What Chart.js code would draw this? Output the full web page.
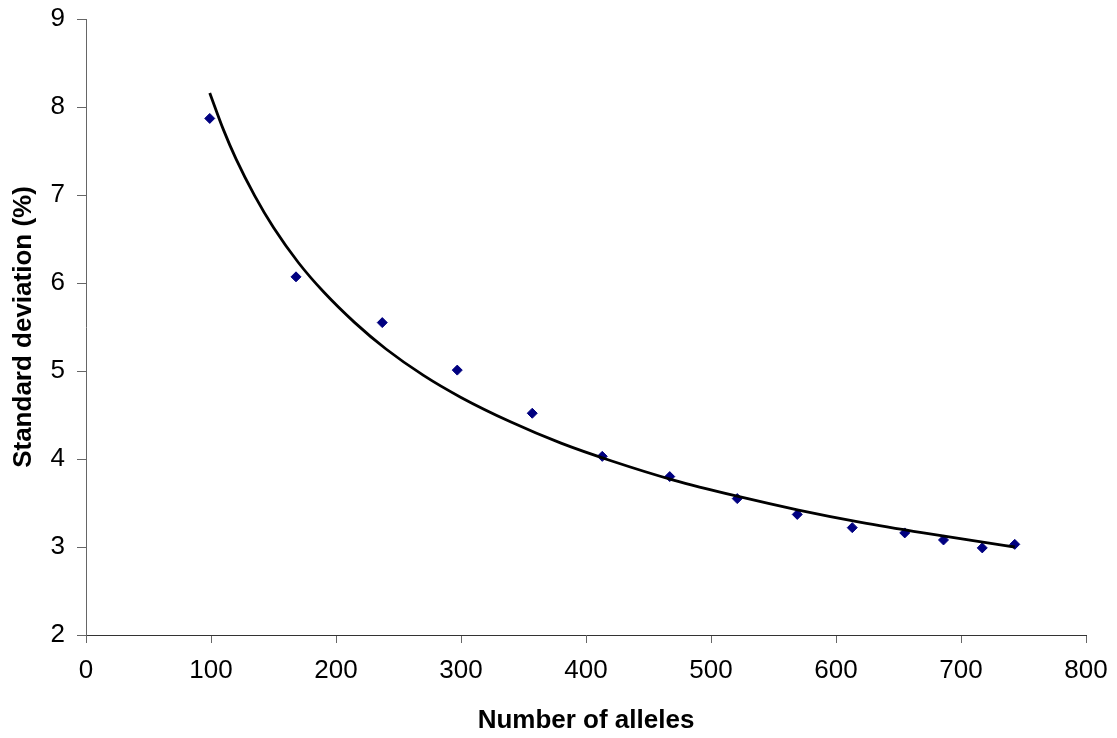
<!DOCTYPE html>
<html>
<head>
<meta charset="utf-8">
<script src="https://cdn.jsdelivr.net/npm/chart.js@4"></script>
<style>
html,body{margin:0;padding:0;background:#fff;}
#wrap{width:1117px;height:738px;}
</style>
</head>
<body>
<div id="wrap"><canvas id="c" width="1117" height="738"></canvas></div>
<script>
// Observed data points
const alleles = [99, 168, 237, 297, 357, 413, 467, 521, 569, 613, 655, 686, 717, 743];
const stdDev  = [7.87, 6.07, 5.55, 5.01, 4.52, 4.03, 3.80, 3.55, 3.37, 3.22, 3.16, 3.08, 2.99, 3.03];

// Trend line
const trendX = [99, 110, 120, 135, 150, 170, 190, 215, 240, 270, 300, 340, 380, 420, 470, 520, 570, 620, 670, 720, 743];
const trendY = [8.16, 7.74, 7.41, 6.99, 6.63, 6.23, 5.90, 5.55, 5.25, 4.95, 4.70, 4.42, 4.18, 3.98, 3.76, 3.58, 3.42, 3.28, 3.16, 3.05, 3.00];

// Axis ticks
const xTicks = [0, 100, 200, 300, 400, 500, 600, 700, 800];
const yTicks = [2, 3, 4, 5, 6, 7, 8, 9];

const xTitle = 'Number of alleles';
const yTitle = 'Standard deviation (%)';

const FONT = "'Liberation Sans', Arial, Helvetica, sans-serif";

const pointData = alleles.map((x, i) => ({x: x, y: stdDev[i]}));
const trendData = trendX.map((x, i) => ({x: x, y: trendY[i]}));

new Chart(document.getElementById('c'), {
  type: 'scatter',
  data: {
    datasets: [
      {
        label: 'Trend',
        data: trendData,
        showLine: true,
        borderColor: '#000000',
        borderWidth: 2.8,
        pointRadius: 0,
        cubicInterpolationMode: 'monotone',
        fill: false,
        order: 0
      },
      {
        label: 'Standard deviation',
        data: pointData,
        pointStyle: 'rectRot',
        pointRadius: 5,
        pointBackgroundColor: '#000080',
        pointBorderColor: '#000080',
        pointBorderWidth: 1,
        showLine: false,
        order: 1
      }
    ]
  },
  options: {
    responsive: false,
    animation: false,
    devicePixelRatio: 1,
    layout: { padding: { left: 0, right: 31, top: 19, bottom: 0 } },
    plugins: {
      legend: { display: false },
      tooltip: { enabled: false }
    },
    scales: {
      x: {
        type: 'linear',
        min: 0, max: 800,
        afterBuildTicks: (s) => { s.ticks = xTicks.map(v => ({value: v})); },
        afterFit: (s) => { s.height = 103; s.paddingLeft = 0; s.paddingRight = 0; },
        grid: { display: true, drawOnChartArea: false, drawTicks: true, tickLength: 8, tickColor: '#666', color: '#666' },
        border: { display: true, color: '#333', width: 1 },
        ticks: { color: '#000', font: { family: FONT, size: 26 }, padding: 12, maxRotation: 0 },
        title: { display: true, text: xTitle, color: '#000', font: { family: FONT, size: 26, weight: 'bold' }, padding: { top: 0, bottom: 2 } }
      },
      y: {
        type: 'linear',
        min: 2, max: 9,
        afterBuildTicks: (s) => { s.ticks = yTicks.map(v => ({value: v})); },
        afterFit: (s) => { s.width = 86; s.paddingTop = 0; s.paddingBottom = 0; },
        grid: { display: true, drawOnChartArea: false, drawTicks: true, tickLength: 9, tickColor: '#666', color: '#666' },
        border: { display: true, color: '#666', width: 1 },
        ticks: { color: '#000', font: { family: FONT, size: 26 }, padding: 12 },
        title: { display: true, text: yTitle, color: '#000', font: { family: FONT, size: 26, weight: 'bold' }, padding: { top: 8, bottom: 0 } }
      }
    }
  }
});
</script>
</body>
</html>
